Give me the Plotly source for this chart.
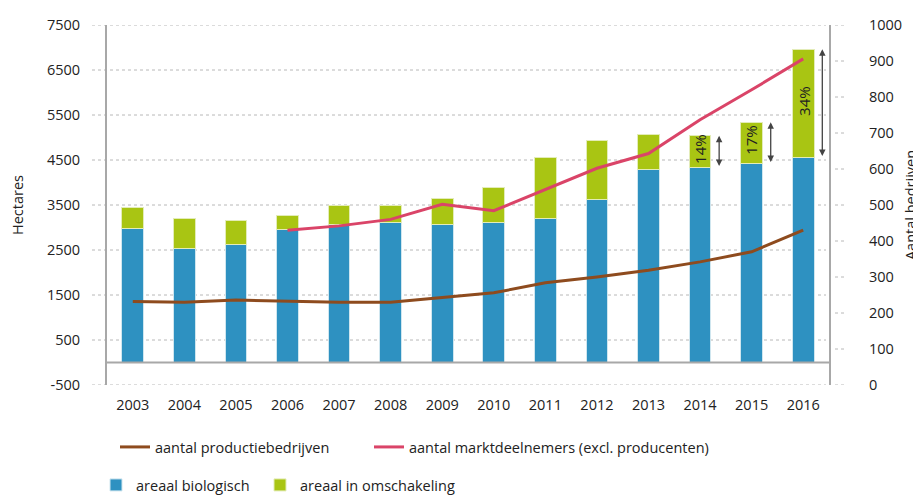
import plotly.graph_objects as go

years = [2003, 2004, 2005, 2006, 2007, 2008, 2009, 2010, 2011, 2012, 2013, 2014, 2015, 2016]
areaal_biologisch = [2970, 2530, 2625, 2965, 3070, 3120, 3065, 3120, 3205, 3625, 4295, 4335, 4420, 4555]
areaal_omschakeling = [465, 680, 520, 300, 425, 365, 590, 765, 1355, 1310, 770, 705, 920, 2405]
productiebedrijven = [232, 230, 236, 232, 230, 230, 242, 256, 284, 300, 319, 342, 370, 430]
markt_years = [2006, 2007, 2008, 2009, 2010, 2011, 2012, 2013, 2014, 2015, 2016]
marktdeelnemers = [430, 442, 460, 502, 484, 543, 602, 643, 737, 820, 906]
pct_years = [2014, 2015, 2016]
pct_labels = ["14%", "17%", "34%"]
left_ticks = [-500, 500, 1500, 2500, 3500, 4500, 5500, 6500, 7500]
left_tick_text = ["-500", "500", "1500", "2500", "3500", "4500", "5500", "6500", "7500"]
right_ticks = [0, 100, 200, 300, 400, 500, 600, 700, 800, 900, 1000]

BLUE = "#2E91C1"
GREEN = "#A9C513"
BROWN = "#8E4B1E"
RED = "#DA4468"
FONT = "Open Sans"
TXT = "#222222"
FS = 14.5

fig = go.Figure()
fig.add_trace(go.Bar(x=years, y=areaal_biologisch, name="areaal biologisch",
                     marker=dict(color=BLUE, line=dict(color="#cfe6ef", width=1)),
                     legend="legend3"))
fig.add_trace(go.Bar(x=years, y=areaal_omschakeling, name="areaal in omschakeling",
                     marker=dict(color=GREEN, line=dict(color="#e3ecb8", width=1)),
                     legend="legend4"))
fig.add_trace(go.Scatter(x=years, y=productiebedrijven, name="aantal productiebedrijven",
                         mode="lines", line=dict(color=BROWN, width=3), yaxis="y2",
                         legend="legend"))
fig.add_trace(go.Scatter(x=markt_years, y=marktdeelnemers,
                         name="aantal marktdeelnemers (excl. producenten)",
                         mode="lines", line=dict(color=RED, width=3), yaxis="y2",
                         legend="legend2"))

PW = 722.0
PH = 360.0
shapes = []
for v in left_ticks:
    shapes.append(dict(type="line", xref="paper", yref="y", x0=-15/PW, x1=1.0 - 3/PW,
                       y0=v, y1=v, line=dict(color="#b8b8b8", width=1, dash="dot"), layer="below"))
for v in right_ticks:
    shapes.append(dict(type="line", xref="paper", yref="y2", x0=1 + 6/PW, x1=1 + 15/PW,
                       y0=v, y1=v, line=dict(color="#b8b8b8", width=1, dash="dot"), layer="below"))
shapes.append(dict(type="line", xref="paper", yref="y", x0=0, x1=1, y0=0, y1=0,
                   line=dict(color="#a8a8a8", width=2), layer="above"))

annotations = []
for yr, lab in zip(pct_years, pct_labels):
    i = years.index(yr)
    b = areaal_biologisch[i]
    g = areaal_omschakeling[i]
    annotations.append(dict(x=yr, y=b + g / 2 + 60, xref="x", yref="y", text=lab,
                            textangle=-90, showarrow=False,
                            font=dict(family=FONT, size=15, color=TXT)))
    annotations.append(dict(x=yr + 0.37, y=b + g, ax=yr + 0.37, ay=b,
                            xref="x", yref="y", axref="x", ayref="y", text="",
                            showarrow=True, arrowside="end+start", arrowhead=2,
                            startarrowhead=2, arrowsize=1, startarrowsize=1,
                            arrowwidth=1.3, arrowcolor="#444444", standoff=0, startstandoff=0))

def leg(xpx, ypx):
    return dict(orientation="h", x=xpx / PW, xanchor="left", y=ypx / PH, yanchor="middle",
                font=dict(size=FS, color=TXT), bgcolor="rgba(0,0,0,0)")

fig.update_layout(
    width=913, height=487,
    margin=dict(l=99, r=92, t=17, b=110, autoexpand=False),
    paper_bgcolor="white", plot_bgcolor="white",
    barmode="stack", bargap=0.58,
    font=dict(family=FONT, size=FS, color=TXT),
    xaxis=dict(tickmode="array", tickvals=years, ticktext=[str(y) for y in years],
               range=[2002.5, 2016.5], showgrid=False, zeroline=False, showline=False,
               ticks="", ticklabelstandoff=9, tickfont=dict(size=FS, color=TXT), automargin=False),
    yaxis=dict(range=[-500, 7500], tickvals=left_ticks, ticktext=left_tick_text,
               showgrid=False, zeroline=False,
               showline=True, linecolor="#a8a8a8", linewidth=2, ticks="",
               ticklabelstandoff=22, tickfont=dict(size=FS, color=TXT), automargin=False,
               title=dict(text="Hectares", font=dict(size=FS, color=TXT), standoff=22)),
    yaxis2=dict(range=[0, 1000], tickvals=right_ticks, overlaying="y", side="right",
                showgrid=False, zeroline=False, showline=True, linecolor="#a8a8a8",
                linewidth=2, ticks="", ticklabelstandoff=35, automargin=False,
                tickfont=dict(size=FS, color=TXT),
                title=dict(text="Aantal bedrijven", font=dict(size=FS, color=TXT), standoff=5)),
    legend=leg(8, -62),
    legend2=leg(262, -62),
    legend3=leg(-11, -100),
    legend4=leg(153, -100),
    shapes=shapes,
    annotations=annotations,
    showlegend=True,
)

fig.write_html("out.html")
